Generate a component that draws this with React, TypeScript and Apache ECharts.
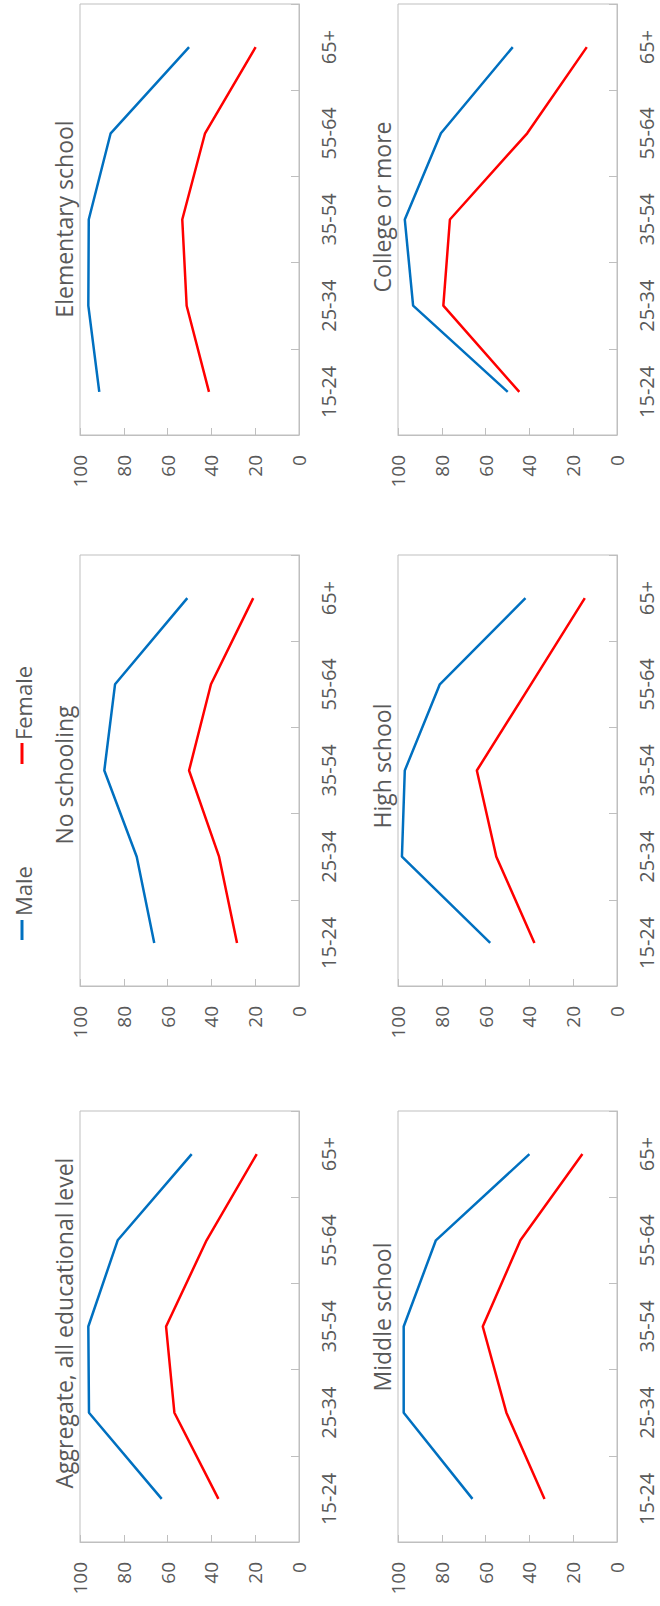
import React, { useEffect, useRef } from "react";
import * as echarts from "echarts";

const ageGroups = ["15-24", "25-34", "35-54", "55-64", "65+"];
const seriesNames = ["Male", "Female"];
const panelTitles = [
  "Aggregate, all educational level",
  "No schooling",
  "Elementary school",
  "Middle school",
  "High school",
  "College or more",
];

const aggregateMale = [62.7, 95.9, 96.2, 82.8, 49.0];
const aggregateFemale = [36.8, 56.9, 60.7, 42.2, 19.3];
const noSchoolingMale = [66.1, 74.1, 88.9, 84.0, 51.0];
const noSchoolingFemale = [28.3, 36.5, 50.2, 40.2, 20.9];
const elementaryMale = [91.2, 96.2, 96.0, 86.0, 50.2];
const elementaryFemale = [41.1, 51.3, 53.3, 42.9, 19.8];
const middleMale = [66.0, 97.4, 97.4, 82.7, 40.0];
const middleFemale = [33.1, 50.5, 61.3, 44.1, 15.8];
const highMale = [57.9, 98.2, 96.9, 80.9, 41.8];
const highFemale = [37.7, 55.1, 64.0, 39.3, 14.7];
const collegeMale = [49.9, 93.1, 96.9, 80.4, 47.6];
const collegeFemale = [44.6, 79.3, 76.3, 41.0, 13.8];

const panelData = [
  [aggregateMale, aggregateFemale],
  [noSchoolingMale, noSchoolingFemale],
  [elementaryMale, elementaryFemale],
  [middleMale, middleFemale],
  [highMale, highFemale],
  [collegeMale, collegeFemale],
];

// layout (positions only)
const layout = [
  { left: 80, top: 1111, tx: 64, ty: 1323 },
  { left: 80, top: 555, tx: 64, ty: 775 },
  { left: 80, top: 4, tx: 64, ty: 219 },
  { left: 398, top: 1111, tx: 382, ty: 1317 },
  { left: 398, top: 555, tx: 382, ty: 766 },
  { left: 398, top: 4, tx: 382, ty: 207 },
];

const COLORS = ["#0070C0", "#FF0000"];
const TEXT = "#595959";
const AXIS = "#BFBFBF";
const FONT = "'Open Sans', 'Noto Sans', sans-serif";

export default function App() {
  const ref = useRef<HTMLDivElement>(null);
  useEffect(() => {
    if (!ref.current) return;
    const chart = echarts.init(ref.current, undefined, { renderer: "svg" });
    const grids: any[] = [];
    const xAxes: any[] = [];
    const yAxes: any[] = [];
    const series: any[] = [];
    const graphics: any[] = [];
    layout.forEach((p, i) => {
      grids.push({
        left: p.left,
        top: p.top,
        width: 219,
        height: 431,
        show: true,
        borderColor: AXIS,
        borderWidth: 1,
        backgroundColor: "transparent",
      });
      xAxes.push({
        gridIndex: i,
        type: "value",
        min: 0,
        max: 100,
        interval: 20,
        inverse: true,
        position: "bottom",
        splitLine: { show: false },
        axisLine: { show: true, onZero: false, lineStyle: { color: AXIS, width: 1 } },
        axisTick: { show: true, inside: true, length: 7, lineStyle: { color: AXIS } },
        axisLabel: {
          rotate: 90,
          margin: 20,
          color: TEXT,
          fontSize: 19,
          fontFamily: FONT,
        },
      });
      yAxes.push({
        gridIndex: i,
        type: "category",
        data: ageGroups,
        position: "right",
        splitLine: { show: false },
        axisLine: { show: true, onZero: false, lineStyle: { color: AXIS, width: 1 } },
        axisTick: { show: true, inside: true, length: 8, lineStyle: { color: AXIS } },
        axisLabel: {
          rotate: 90,
          interval: 0,
          margin: 19,
          color: TEXT,
          fontSize: 20,
          fontFamily: FONT,
        },
      });
      panelData[i].forEach((vals, s) => {
        series.push({
          name: seriesNames[s],
          type: "line",
          xAxisIndex: i,
          yAxisIndex: i,
          showSymbol: false,
          symbol: "none",
          lineStyle: { color: COLORS[s], width: 2.5 },
          itemStyle: { color: COLORS[s] },
          data: vals.map((v, j) => [v, ageGroups[j]]),
        });
      });
      graphics.push({
        type: "text",
        x: p.tx,
        y: p.ty,
        rotation: Math.PI / 2,
        style: {
          text: panelTitles[i],
          fill: TEXT,
          fontSize: 23,
          fontFamily: FONT,
          align: "center",
          verticalAlign: "middle",
        },
      });
    });
    // legend
    const legendItems = [
      { name: seriesNames[0], color: COLORS[0], y1: 940, y2: 920, ty: 891 },
      { name: seriesNames[1], color: COLORS[1], y1: 764, y2: 743, ty: 703 },
    ];
    legendItems.forEach((l) => {
      graphics.push({
        type: "line",
        shape: { x1: 22, y1: l.y1, x2: 22, y2: l.y2 },
        style: { stroke: l.color, lineWidth: 3 },
      });
      graphics.push({
        type: "text",
        x: 23,
        y: l.ty,
        rotation: Math.PI / 2,
        style: {
          text: l.name,
          fill: TEXT,
          fontSize: 22,
          fontFamily: FONT,
          align: "center",
          verticalAlign: "middle",
        },
      });
    });
    chart.setOption({
      animation: false,
      backgroundColor: "#ffffff",
      grid: grids,
      xAxis: xAxes,
      yAxis: yAxes,
      series,
      graphic: graphics,
    });
    return () => chart.dispose();
  }, []);
  return (
    <div
      ref={ref}
      style={{ position: "absolute", left: 0, top: 0, width: 660, height: 1606 }}
    />
  );
}
